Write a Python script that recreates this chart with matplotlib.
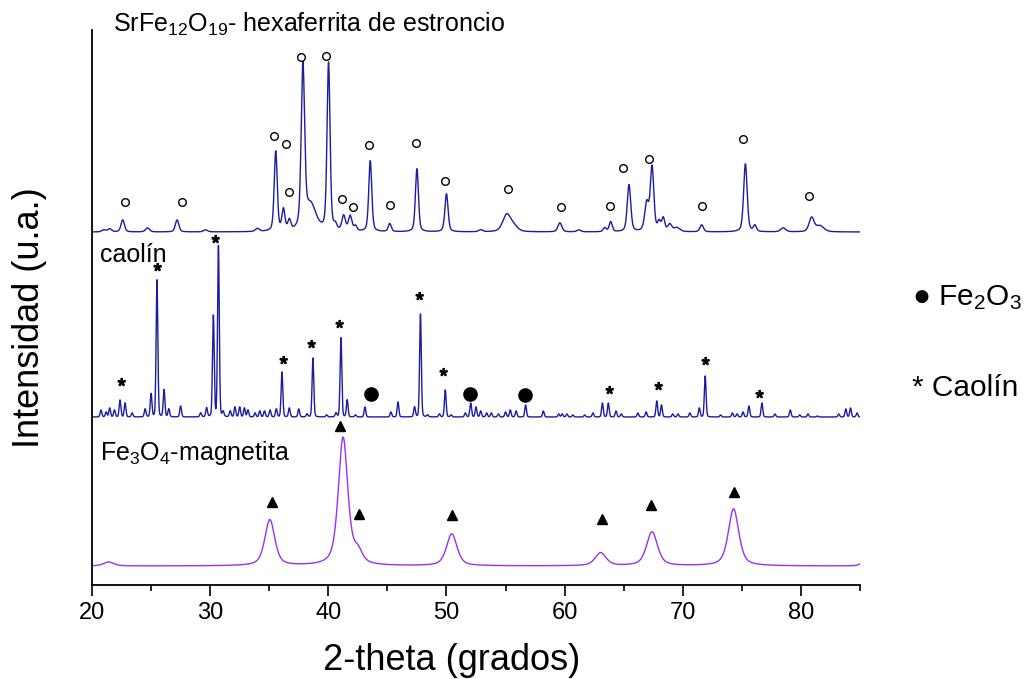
import numpy as np
import matplotlib
matplotlib.use("Agg")
import matplotlib.pyplot as plt
from matplotlib.textpath import TextPath
from matplotlib.font_manager import FontProperties
from matplotlib.path import Path

plt.rcParams['font.family'] = ['Liberation Sans', 'DejaVu Sans']
plt.rcParams['mathtext.fontset'] = 'custom'
plt.rcParams['mathtext.rm'] = 'Liberation Sans'
plt.rcParams['mathtext.it'] = 'Liberation Sans:italic'

# ---- data (2-theta in grados, heights in arbitrary units) ----
# SrFe12O19 - hexaferrita: peak position, height, width
sr_pos = [21.0, 21.5, 22.6, 24.7, 27.2, 29.6, 34.0, 35.55, 36.2, 36.7, 37.85, 38.5,
          40.02, 40.6, 41.3, 41.85, 42.3, 43.55, 45.2, 47.5, 50.0, 52.9, 55.1, 55.7,
          59.6, 61.2, 63.4, 63.9, 65.45, 66.95, 67.4, 68.0, 68.35, 68.9, 69.5, 71.6,
          75.3, 76.1, 78.5, 80.9, 81.6]
sr_hgt = [2, 3, 12, 4, 12, 2, 3, 80, 21, 10, 160, 26,
          168, 5, 15, 15, 5, 71, 8, 63, 38, 2, 17, 5,
          9, 2, 4, 10, 47, 28, 64, 9, 13, 7, 4, 7,
          68, 6, 4, 14, 6]
sr_wid = [0.4, 0.4, 0.35, 0.4, 0.35, 0.4, 0.4, 0.3, 0.3, 0.3, 0.34, 1.1,
          0.3, 0.3, 0.35, 0.35, 0.3, 0.3, 0.3, 0.3, 0.32, 0.4, 0.8, 0.8,
          0.4, 0.4, 0.3, 0.3, 0.35, 0.4, 0.35, 0.3, 0.3, 0.4, 0.6, 0.35,
          0.35, 0.3, 0.5, 0.5, 0.8]

# caolin: peak position, height (sharp peaks)
ca_pos = [20.76, 21.2, 21.5, 21.9, 22.37, 22.8, 23.4, 24.5, 25.0, 25.5, 26.1, 26.5,
          27.5, 29.2, 29.7, 30.27, 30.7, 31.1, 31.7, 32.1, 32.5, 32.9, 33.2, 33.8,
          34.2, 34.6, 35.07, 35.6, 36.08, 36.7, 37.5, 38.2, 38.7, 39.86, 40.65, 41.07,
          41.6, 42.3, 43.1, 45.3, 45.9, 47.3, 47.8, 48.4, 49.4, 49.9, 50.4, 51.6,
          52.05, 52.5, 52.9, 53.4, 53.8, 54.4, 55.0, 55.4, 55.9, 56.7, 58.2, 59.5,
          59.8, 60.2, 60.7, 61.7, 62.4, 63.2, 63.7, 64.35, 64.8, 66.2, 66.9, 67.8,
          68.2, 69.15, 69.6, 70.6, 71.4, 71.9, 73.2, 74.2, 74.6, 75.1, 75.6, 76.7,
          77.8, 79.1, 79.9, 80.6, 81.4, 83.2, 83.8, 84.2, 84.75]
ca_hgt = [7, 5, 9, 7, 17, 14, 4, 8, 23, 137, 27, 8,
          11, 4, 9, 102, 171, 5, 6, 10, 10, 9, 7, 4,
          6, 6, 7, 8, 45, 9, 8, 3, 59, 2, 4, 80,
          17, 2, 10, 5, 15, 10, 103, 2, 3, 27, 2, 4,
          14, 10, 6, 4, 4, 3, 5, 7, 6, 12, 6, 3,
          3, 3, 2, 2, 4, 14, 14, 6, 3, 4, 5, 16,
          12, 3, 3, 4, 9, 41, 2, 4, 3, 5, 11, 14,
          3, 7, 2, 3, 1, 3, 8, 9, 4]

# Fe3O4 - magnetita: peak position, height, width
mg_pos = [21.4, 35.05, 41.25, 42.5, 50.45, 63.05, 67.4, 74.3, 85.2]
mg_hgt = [4, 46, 128, 12, 32, 13, 34, 57, 3]
mg_wid = [1.0, 1.0, 0.95, 0.9, 1.05, 1.1, 1.1, 1.05, 0.6]

# phase markers (2-theta, y)
circ_x = [22.79, 27.59, 35.38, 36.42, 36.65, 37.71, 39.81, 41.16, 42.09, 43.47, 45.22,
          47.42, 49.85, 55.17, 59.70, 63.87, 64.92, 67.12, 71.65, 75.10, 80.71]
circ_y = [383, 383, 449, 441, 393, 528, 529, 386, 378, 440, 380,
          442, 404, 396, 378, 379, 417, 426, 379, 446, 389]
star_x = [22.43, 25.53, 30.41, 36.14, 38.51, 40.91, 47.65, 49.73, 63.76, 67.93, 71.86, 76.48]
star_y = [200, 315, 343, 222, 238, 258, 286, 210, 192, 196, 221, 188]
dot_x = [43.61, 51.99, 56.65]
dot_y = [191, 191, 190]
tri_x = [35.23, 40.99, 42.62, 50.50, 63.17, 67.34, 74.34]
tri_y = [83, 159, 71, 70, 66, 80, 93]

sr_base, ca_base, mg_base = 353, 168, 19


def pattern(x, pos, hgt, wid, eta):
    y = np.zeros_like(x)
    for p, h, w in zip(pos, hgt, wid):
        d = (x - p) / w
        y += h * (eta / (1 + 4 * d ** 2) + (1 - eta) * np.exp(-4 * np.log(2) * d ** 2))
    return y


x = np.arange(20, 85.001, 0.02)
y_sr = sr_base + pattern(x, sr_pos, sr_hgt, sr_wid, 0.4)
y_ca = ca_base + pattern(x, ca_pos, ca_hgt, [0.17] * len(ca_pos), 0.15)
y_mg = mg_base + pattern(x, mg_pos, mg_hgt, mg_wid, 0.55)

fig = plt.figure(figsize=(10.33, 6.79), dpi=100)
ax = fig.add_axes([92 / 1033, 1 - 585 / 679, 768 / 1033, 555 / 679])

ax.plot(x, y_sr, color='#1c1ca0', lw=1)
ax.plot(x, y_ca, color='#1c1ca0', lw=1)
ax.plot(x, y_mg, color='#9a30f5', lw=1)

# asterisk marker from the font glyph, centred
tp = TextPath((0, 0), '*', prop=FontProperties(family='Liberation Sans'), size=10)
v = tp.vertices.copy()
v -= (v.min(axis=0) + v.max(axis=0)) / 2
star = Path(v, tp.codes)

ax.plot(circ_x, circ_y, 'o', mfc='white', mec='black', ms=5.5, mew=1, clip_on=False)
ax.plot(star_x, star_y, ls='none', marker=star, color='black', ms=10, clip_on=False)
ax.plot(dot_x, dot_y, 'o', color='black', ms=9.5, clip_on=False)
ax.plot(tri_x, tri_y, '^', color='black', ms=7.5, clip_on=False)

ax.set_xlim(20, 85)
ax.set_ylim(0, 555)
ax.set_xticks(np.arange(20, 81, 10))
ax.set_xticks(np.arange(25, 86, 10), minor=True)
ax.set_yticks([])
ax.tick_params(axis='x', which='major', length=8, width=1.2, labelsize=17, pad=4)
ax.tick_params(axis='x', which='minor', length=4, width=1.2)
for s in ['top', 'right']:
    ax.spines[s].set_visible(False)
for s in ['left', 'bottom']:
    ax.spines[s].set_linewidth(1.3)

fig.text(113 / 1033, 1 - 24 / 679, r'SrFe$_{12}$O$_{19}$- hexaferrita de estroncio',
         fontsize=18, ha='left', va='center')
fig.text(100 / 1033, 1 - 255 / 679, 'caolín', fontsize=18, ha='left', va='center')
fig.text(100 / 1033, 1 - 453 / 679, r'Fe$_3$O$_4$-magnetita', fontsize=18, ha='left', va='center')
fig.text(912 / 1033, 1 - 298 / 679, r'● Fe$_2$O$_3$', fontsize=21.5, ha='left', va='center')
fig.text(912 / 1033, 1 - 388 / 679, '* Caolín', fontsize=21.5, ha='left', va='center')

fig.text(452 / 1033, 1 - 660 / 679, '2-theta (grados)', fontsize=26, ha='center', va='center')
fig.text(30 / 1033, 1 - 318 / 679, 'Intensidad (u.a.)', fontsize=26, rotation=90,
         ha='center', va='center')

fig.savefig('out.png', dpi=100)
